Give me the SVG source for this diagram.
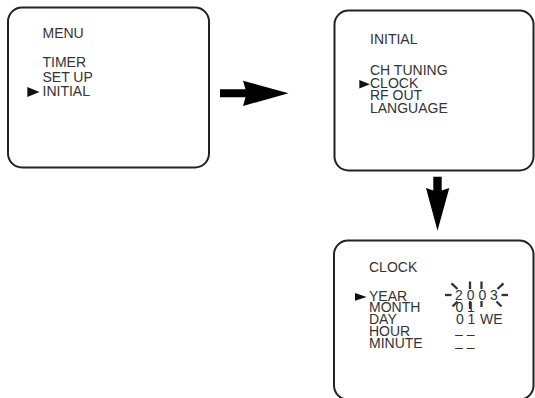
<svg xmlns="http://www.w3.org/2000/svg" width="535" height="398" viewBox="0 0 535 398">
  <style>
    .screen { fill: #fff; stroke: #222; stroke-width: 2; }
    .lbl { font-family: "Liberation Sans", Arial, Helvetica, sans-serif; font-size: 14px; fill: #333; }
    .cur { fill: #111; }
    .arrow { fill: #000; }
    .ray { stroke: #333; stroke-width: 2.3; fill: none; }
  </style>
  <rect width="535" height="398" fill="#fff"/>

  <!-- main menu screen -->
  <g id="menu">
    <rect class="screen" x="8" y="7.5" width="201" height="160" rx="14"/>
    <text class="lbl" x="42.5" y="38">MENU</text>
    <text class="lbl" x="42.5" y="67">TIMER</text>
    <text class="lbl" x="42.5" y="81.5">SET UP</text>
    <text class="lbl" x="42.5" y="96">INITIAL</text>
    <polygon class="cur" points="27.3,87 39.5,92 27.3,97"/>
  </g>

  <!-- initial sub-menu screen -->
  <g id="initial">
    <rect class="screen" x="334.5" y="10.5" width="199" height="160" rx="14"/>
    <text class="lbl" x="370" y="43.5">INITIAL</text>
    <text class="lbl" x="370" y="75">CH TUNING</text>
    <text class="lbl" x="370" y="87.8">CLOCK</text>
    <text class="lbl" x="370" y="100.3">RF OUT</text>
    <text class="lbl" x="370" y="112.8">LANGUAGE</text>
    <polygon class="cur" points="359.3,80 370,84.2 359.3,88.4"/>
  </g>

  <!-- clock setting screen -->
  <g id="clock">
    <rect class="screen" x="334" y="240.5" width="199.5" height="159" rx="14"/>
    <text class="lbl" x="369" y="271.5">CLOCK</text>
    <text class="lbl" x="369" y="300.5">YEAR</text>
    <text class="lbl" x="369" y="312.3">MONTH</text>
    <text class="lbl" x="369" y="324.1">DAY</text>
    <text class="lbl" x="369" y="335.9">HOUR</text>
    <text class="lbl" x="369" y="347.7">MINUTE</text>
    <polygon class="cur" points="355,293 366.7,296.9 355,300.8"/>

    <text class="lbl" x="455 466.8 478.4 490" y="299.5">2003</text>
    <text class="lbl" x="455.5 467" y="311.5">01</text>
    <text class="lbl" x="456 467.5 480" y="323.5">01WE</text>
    <text class="lbl" x="455" y="339">– –</text>
    <text class="lbl" x="455" y="351.5">– –</text>

    <!-- blinking marks round the year -->
    <g class="ray">
      <line x1="445" y1="295" x2="451.5" y2="295"/>
      <line x1="501.5" y1="295" x2="508" y2="295"/>
      <line x1="451.5" y1="283.3" x2="457.5" y2="289"/>
      <line x1="470" y1="281.5" x2="470" y2="289"/>
      <line x1="481.5" y1="281.5" x2="481.5" y2="289"/>
      <line x1="503.5" y1="283.3" x2="497.5" y2="289"/>
      <line x1="457.5" y1="301.5" x2="452.5" y2="306.5"/>
      <line x1="470" y1="301" x2="470" y2="309"/>
      <line x1="481.5" y1="301" x2="481.5" y2="307"/>
      <line x1="496.5" y1="301.5" x2="501.5" y2="306.5"/>
    </g>
  </g>

  <!-- connectors -->
  <g id="connectors">
    <path class="arrow" d="M220,89.3 H245.5 L243,80.7 L288.5,93.3 L243,106 L245.5,97.3 H220 Z"/>
    <path class="arrow" d="M433.3,176.7 H441.7 V190.5 L449.3,188 L437.5,230.7 L426,188 L433.3,190.5 Z"/>
  </g>
</svg>
